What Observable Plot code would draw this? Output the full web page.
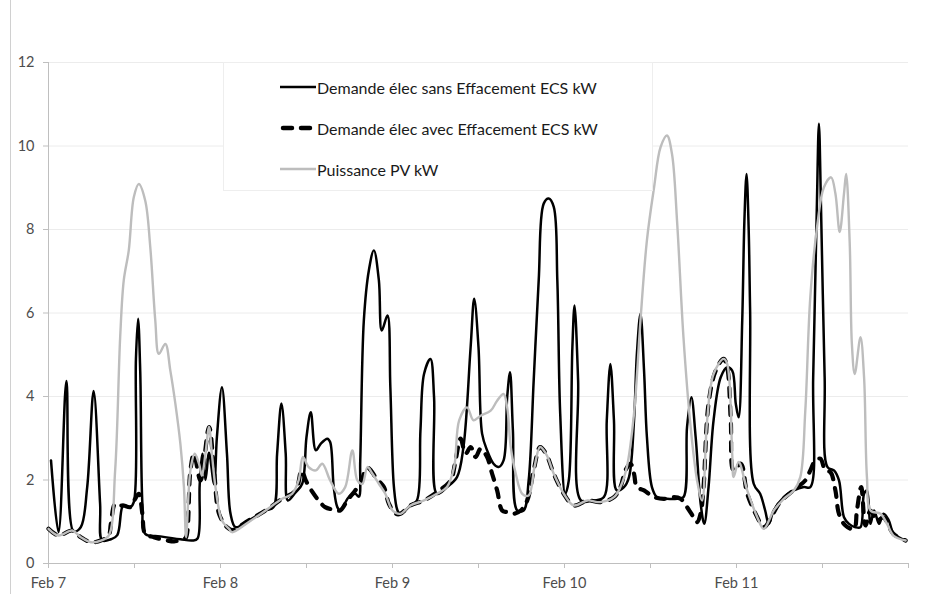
<!DOCTYPE html>
<html>
<head>
<meta charset="utf-8">
<script src="https://cdn.jsdelivr.net/npm/d3@7"></script>
<script src="https://cdn.jsdelivr.net/npm/@observablehq/plot@0.6"></script>
<style>
  html, body { margin: 0; padding: 0; background: #fff; }
  #wrap { position: relative; width: 925px; height: 594px; font-family: Lato, "Open Sans", sans-serif; }
  #frame { position: absolute; left: 10px; top: 0; width: 0; height: 594px; border-left: 1px solid #d0d0d0; }
  #legend { position: absolute; left: 223px; top: 62px; width: 428px; height: 127px; background: #fff; border: 1px solid #eeeeee; }
  .row { position: absolute; left: 56px; height: 20px; display: flex; align-items: center; font-size: 16px; color: #1a1a1a; white-space: nowrap; }
  .row svg { margin-right: 1px; }
</style>
</head>
<body>
<div id="wrap">
  <div id="chart"></div>
  <div id="frame"></div>
  <div id="legend"></div>
</div>
<script>
// ---- Data (hours since Feb 7 00:00, values in kW) ----
const seriesNames = ["Demande élec sans Effacement ECS kW", "Demande élec avec Effacement ECS kW", "Puissance PV kW"];

const sansHours = [0.35,1.4,2.5,3.5,4.5,5.4,6.3,7.2,7.5,8.7,9.6,10.3,10.7,11.4,11.9,12.2,12.5,12.8,13.1,13.5,15.6,18.4,20.1,20.8,21.1,21.5,21.9,22.4,23.1,23.5,24.2,24.9,25.4,26.1,27.9,30.3,31.4,31.9,32.5,33.1,33.4,34.5,35.4,36.0,36.6,37.3,38.0,38.9,39.3,39.8,40.3,40.7,41.9,42.8,43.3,43.5,44.0,44.7,45.4,46.1,46.5,47.3,47.7,48.2,48.7,49.1,50.5,51.4,51.9,52.4,53.3,53.8,54.2,55.6,57.0,57.9,58.9,59.4,60.0,60.5,61.2,62.1,62.8,63.5,64.0,64.4,64.8,65.4,66.3,67.0,67.7,68.4,69.1,69.8,70.5,71.0,71.4,72.1,72.6,73.1,73.4,73.9,74.3,76.1,77.5,77.9,78.4,78.9,79.3,80.3,81.0,81.7,82.1,82.6,83.1,83.5,84.2,84.9,86.3,87.7,88.6,89.1,89.7,90.3,91.0,91.5,92.1,92.8,93.8,94.7,95.4,95.9,96.3,96.8,97.1,97.4,97.7,97.9,98.4,99.3,100.0,100.5,101.2,102.6,104.0,105.4,106.3,106.7,107.2,107.5,107.8,108.3,108.7,109.6,110.3,111.0,111.7,112.6,113.3,113.8,114.2,114.7,115.2,115.9,116.5,117.2,117.9,118.6,119.6];
const sansKW = [2.47,0.75,4.37,0.77,0.87,1.83,4.13,1.43,0.55,0.58,0.68,1.35,1.39,1.35,1.47,4.9,5.86,4.6,1.43,0.71,0.65,0.58,0.55,0.6,1.9,2.63,2.0,2.65,1.91,3.03,4.22,2.63,1.19,0.87,1.03,1.27,1.35,2.63,3.83,2.63,1.51,1.71,1.91,3.03,3.62,2.71,2.87,2.99,2.91,1.83,1.35,1.27,1.59,1.67,1.6,2.47,5.82,7.02,7.5,6.78,5.58,5.94,4.22,1.83,1.27,1.19,1.39,1.51,3.19,4.54,4.9,3.98,1.67,1.83,2.07,2.79,5.18,6.34,5.18,3.11,2.71,2.39,2.31,2.47,3.98,4.58,3.19,1.27,1.27,1.99,4.38,6.78,8.62,8.74,8.54,6.78,3.59,1.67,1.99,5.18,6.18,4.38,1.51,1.51,1.59,3.43,4.78,3.43,1.75,1.83,2.07,3.43,5.02,5.98,4.62,3.03,1.83,1.59,1.55,1.55,1.59,3.27,3.98,3.03,1.43,0.95,1.83,3.43,4.46,4.7,4.62,3.83,3.5,5.82,8.2,9.33,8.0,6.06,1.91,1.67,1.27,0.95,1.27,1.59,1.75,1.83,1.83,4.46,8.46,10.53,8.46,4.46,2.31,2.23,1.99,1.11,0.95,0.87,0.87,1.67,1.75,0.95,1.27,0.95,1.19,1.05,0.71,0.63,0.55];

const avecHours = [0.0,1.4,3.3,4.5,5.9,7.3,8.4,8.7,9.3,10.0,10.5,11.4,12.1,12.6,13.1,13.5,14.7,16.6,17.5,18.9,19.2,19.8,20.3,21.2,22.4,23.1,23.8,24.9,25.6,27.9,30.3,32.6,34.5,35.3,35.9,36.8,37.7,38.6,39.8,40.7,41.7,42.8,43.5,44.5,45.8,46.8,47.5,48.5,49.1,50.5,52.4,54.2,56.1,56.8,57.5,58.2,58.9,59.6,60.3,61.2,61.9,62.6,63.3,64.0,64.9,65.9,66.8,67.7,68.6,69.5,70.5,71.9,73.3,75.2,77.0,78.9,79.8,80.5,81.2,81.7,82.1,83.1,84.5,85.9,87.2,88.2,89.1,90.0,90.5,91.0,91.4,92.1,93.1,94.2,94.7,95.2,95.6,96.6,97.5,98.9,99.8,102.1,104.5,105.6,106.3,107.0,107.7,108.4,109.1,109.8,110.3,111.2,112.4,112.8,113.4,114.0,114.7,115.6,116.5,117.9,119.6];
const avecKW = [0.83,0.67,0.79,0.63,0.51,0.55,0.67,0.95,1.43,1.39,1.39,1.35,1.55,1.67,1.19,0.71,0.63,0.55,0.53,0.59,0.63,2.23,2.63,1.99,3.27,2.23,1.19,0.87,0.8,1.03,1.27,1.55,1.75,2.23,1.99,1.72,1.51,1.35,1.29,1.27,1.51,1.75,1.91,2.29,2.03,1.83,1.43,1.19,1.19,1.39,1.51,1.71,1.99,2.47,2.99,2.63,2.79,2.55,2.75,2.55,2.15,1.75,1.27,1.23,1.19,1.27,1.51,2.23,2.79,2.6,2.15,1.67,1.39,1.51,1.47,1.59,1.83,2.23,2.39,2.15,1.83,1.75,1.59,1.55,1.59,1.55,1.35,1.11,0.99,1.2,1.83,3.83,4.62,4.9,4.7,3.43,2.23,2.39,1.67,1.11,0.87,1.47,1.83,1.99,2.23,2.47,2.51,2.23,2.19,1.75,1.19,0.91,0.83,1.27,1.83,0.91,1.27,1.03,1.1,0.71,0.55];

const pvHours = [0.0,1.4,3.3,4.5,5.9,7.3,8.4,9.3,10.0,10.5,11.2,11.9,12.6,13.5,14.2,14.9,15.4,16.3,17.0,17.7,18.4,18.9,19.2,19.8,20.4,21.0,21.4,21.9,22.4,22.8,23.3,24.2,25.2,25.6,27.9,30.3,32.6,34.0,34.9,35.5,36.3,37.3,38.2,39.3,40.5,41.4,42.4,43.1,43.8,44.5,45.2,46.1,47.0,48.0,49.1,50.5,52.4,54.2,55.6,56.6,57.3,58.4,59.3,60.3,61.7,62.6,63.5,64.0,64.5,65.2,66.1,67.0,67.8,68.6,69.5,70.5,71.9,73.3,75.2,77.0,78.9,79.8,80.7,81.7,82.6,83.5,84.5,85.4,86.3,87.0,87.7,88.6,89.6,90.5,91.2,91.9,92.8,94.2,94.7,95.4,95.6,96.3,97.5,98.9,99.8,101.2,102.6,104.0,104.9,105.6,106.3,107.3,108.2,109.2,109.8,110.4,111.0,111.3,111.8,112.1,112.5,113.3,113.8,114.2,114.7,116.1,117.0,117.9,119.6];
const pvKW = [0.83,0.67,0.79,0.63,0.51,0.55,0.67,2.23,5.42,6.78,7.5,8.77,9.09,8.69,7.58,5.82,5.02,5.26,4.62,3.83,2.87,1.83,0.63,2.23,2.63,2.39,2.1,2.63,3.27,2.63,1.83,1.03,0.83,0.75,0.99,1.27,1.55,1.67,1.99,2.55,2.31,2.23,2.39,1.99,1.67,1.83,2.71,1.99,1.91,2.31,2.15,1.91,1.67,1.27,1.19,1.39,1.51,1.67,1.83,2.31,3.43,3.74,3.43,3.54,3.66,3.9,4.06,3.74,2.79,2.15,1.67,1.63,2.3,2.79,2.6,2.15,1.67,1.39,1.51,1.47,1.59,1.83,2.31,3.59,5.82,7.74,9.01,9.97,10.25,9.81,8.22,5.42,3.27,1.99,1.51,3.43,4.54,4.9,4.78,2.63,2.07,2.43,1.75,1.11,0.83,1.27,1.55,1.75,2.07,3.66,6.38,8.14,9.01,9.25,8.86,7.94,8.86,9.33,7.66,5.26,4.54,5.42,4.46,2.07,1.27,1.19,0.95,0.67,0.55];

const yTicks = [0, 2, 4, 6, 8, 10, 12];
const dayLabels = ["Feb 7", "Feb 8", "Feb 9", "Feb 10", "Feb 11"];

// ---- Build ----
const T0 = Date.UTC(2015, 1, 7);
const toDate = h => new Date(T0 + h * 3600e3);
const rows = (hours, vals) => hours.map((h, i) => ({t: toDate(h), v: vals[i]}));
const sans = rows(sansHours, sansKW);
const avec = rows(avecHours, avecKW);
const pv = rows(pvHours, pvKW);

const dayTicks = dayLabels.map((_, i) => toDate(24 * i));
const halfTicks = d3.range(0, 121, 12).map(toDate);
const labelOf = new Map(dayTicks.map((d, i) => [+d, dayLabels[i]]));

const chart = Plot.plot({
  width: 925,
  height: 594,
  marginLeft: 48,
  marginRight: 17,
  marginTop: 62,
  marginBottom: 31,
  style: {fontFamily: "Lato, 'Open Sans', sans-serif", fontSize: "14.5px", color: "#595959", background: "transparent"},
  x: {type: "utc", domain: [toDate(0), toDate(120)]},
  y: {domain: [0, 12]},
  marks: [
    Plot.gridY(yTicks.filter(d => d > 0), {stroke: "#ececec", strokeOpacity: 1}),
    Plot.ruleY([0], {stroke: "#bfbfbf"}),
    Plot.ruleX([toDate(0)], {stroke: "#bfbfbf"}),
    Plot.axisY(yTicks, {tickSize: 5, tickPadding: 9, stroke: "#bfbfbf", label: null, fill: "#4d4d4d"}),
    Plot.axisX(halfTicks, {tickSize: 5, stroke: "#bfbfbf", tickFormat: () => "", label: null}),
    Plot.axisX(dayTicks, {tickSize: 0, tickPadding: 14, tickFormat: d => labelOf.get(+d), label: null, fill: "#4d4d4d"}),
    Plot.line(sans, {x: "t", y: "v", stroke: "#000", strokeWidth: 2.5, curve: "catmull-rom"}),
    Plot.line(avec, {x: "t", y: "v", stroke: "#000", strokeWidth: 4.2, strokeDasharray: "9,9", strokeLinecap: "round", curve: "catmull-rom"}),
    Plot.line(pv, {x: "t", y: "v", stroke: "#bdbdbd", strokeWidth: 2.4, curve: "catmull-rom"})
  ]
});
document.getElementById("chart").appendChild(chart);

// ---- Legend ----
const legend = document.getElementById("legend");
const styles = [
  {stroke: "#000", w: 2.3, dash: null},
  {stroke: "#000", w: 4.5, dash: "9,9"},
  {stroke: "#bdbdbd", w: 2.3, dash: null}
];
const rowTops = [14, 55, 96];
seriesNames.forEach((name, i) => {
  const row = document.createElement("div");
  row.className = "row";
  row.style.top = rowTops[i] + "px";
  const s = styles[i];
  row.innerHTML = `<svg width="36" height="10"><line x1="${s.dash ? 3 : 0}" x2="${s.dash ? 33 : 36}" y1="5" y2="5" stroke="${s.stroke}" stroke-width="${s.w}" ${s.dash ? `stroke-dasharray="${s.dash}" stroke-linecap="round"` : ""}/></svg><span>${name}</span>`;
  legend.appendChild(row);
});
</script>
</body>
</html>
